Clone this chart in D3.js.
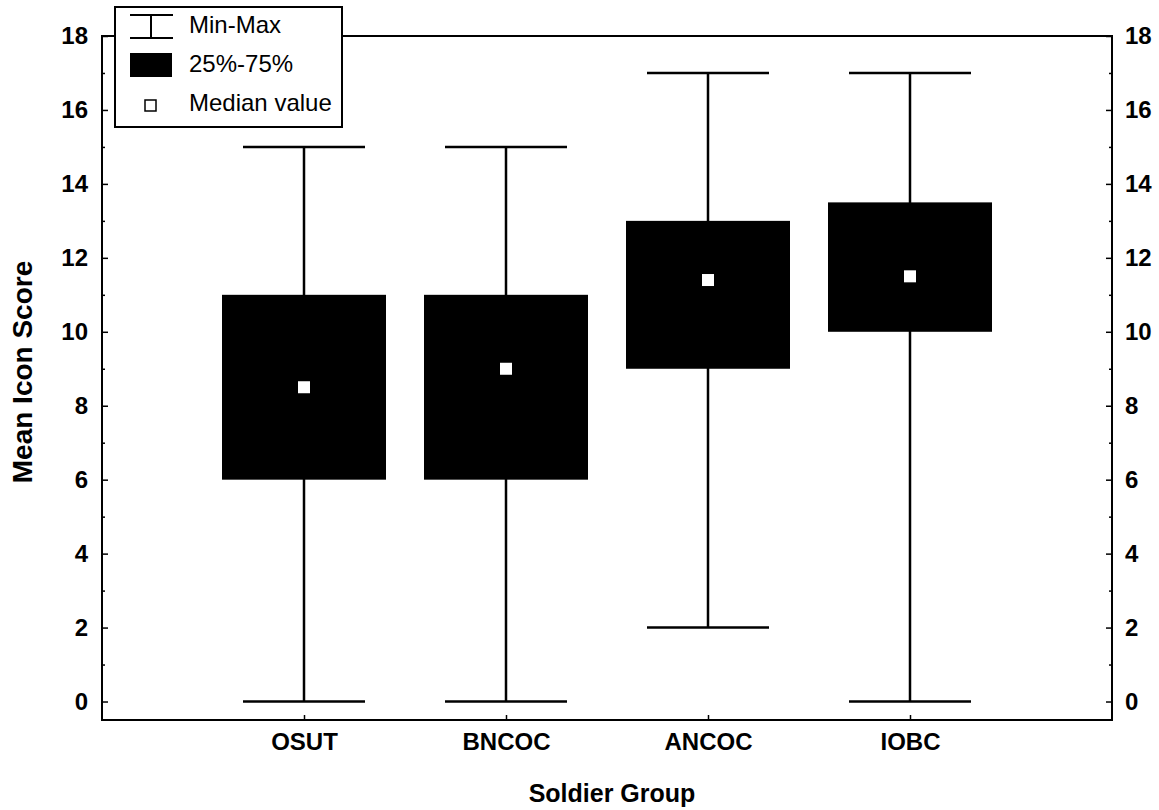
<!DOCTYPE html>
<html><head><meta charset="utf-8">
<script src="https://cdn.jsdelivr.net/npm/d3@7"></script>
<style>
body{margin:0;background:#fff;}
text{font-family:"Liberation Sans",Arial,sans-serif;}
</style></head>
<body><svg id="c" width="1159" height="810"></svg>
<script>
const categories = ["OSUT","BNCOC","ANCOC","IOBC"];
const minVals    = [0, 0, 2, 0];
const q1Vals     = [6, 6, 9, 10];
const medianVals = [8.5, 9.0, 11.4, 11.5];
const q3Vals     = [11, 11, 13, 13.5];
const maxVals    = [15, 15, 17, 17];
const majorTicks = [0,2,4,6,8,10,12,14,16,18];
const minorTicks = [1,3,5,7,9,11,13,15,17];
const legendLabels = ["Min-Max","25%-75%","Median value"];

const svg = d3.select("#c");
const L=102, R=1112, T=36, B=720;
const x = d3.scalePoint().domain(categories).range([L,R]).padding(1);
const y = d3.scaleLinear().domain([-0.5,18]).range([B,T]);

const data = categories.map((c,i)=>({c,min:minVals[i],q1:q1Vals[i],med:medianVals[i],q3:q3Vals[i],max:maxVals[i]}));

// frame
svg.append("rect").attr("x",L).attr("y",T).attr("width",R-L).attr("height",B-T)
  .attr("fill","none").attr("stroke","#000").attr("stroke-width",2);

function styleAxis(g,fs){
  g.select(".domain").remove();
  g.selectAll(".tick line").attr("stroke","#000").attr("stroke-width",1.5);
  g.selectAll(".tick text").attr("fill","#000").style("font-size",fs+"px").style("font-weight","bold")
   .style("font-family",'"Liberation Sans",Arial,sans-serif');
}
const gl = svg.append("g").attr("transform",`translate(${L},0)`)
  .call(d3.axisLeft(y).tickValues(majorTicks).tickSize(-6).tickPadding(14).tickFormat(d3.format("d")));
styleAxis(gl,24);
const glm = svg.append("g").attr("transform",`translate(${L},0)`)
  .call(d3.axisLeft(y).tickValues(minorTicks).tickSize(-3).tickFormat(""));
styleAxis(glm,24);
const gr = svg.append("g").attr("transform",`translate(${R},0)`)
  .call(d3.axisRight(y).tickValues(majorTicks).tickSize(-6).tickPadding(13).tickFormat(d3.format("d")));
styleAxis(gr,24);
const grm = svg.append("g").attr("transform",`translate(${R},0)`)
  .call(d3.axisRight(y).tickValues(minorTicks).tickSize(-3).tickFormat(""));
styleAxis(grm,24);
const gb = svg.append("g").attr("transform",`translate(0,${B})`)
  .call(d3.axisBottom(x).tickSize(-5).tickPadding(13));
styleAxis(gb,24);

// whiskers
const capHalf=61, boxHalf=82, medSize=12;
const g = svg.append("g");
g.selectAll(".wh").data(data).join("line")
  .attr("x1",d=>x(d.c)).attr("x2",d=>x(d.c)).attr("y1",d=>y(d.min)).attr("y2",d=>y(d.max))
  .attr("stroke","#000").attr("stroke-width",2.5);
g.selectAll(".capmax").data(data).join("line")
  .attr("x1",d=>x(d.c)-capHalf).attr("x2",d=>x(d.c)+capHalf).attr("y1",d=>y(d.max)).attr("y2",d=>y(d.max))
  .attr("stroke","#000").attr("stroke-width",2.5);
g.selectAll(".capmin").data(data).join("line")
  .attr("x1",d=>x(d.c)-capHalf).attr("x2",d=>x(d.c)+capHalf).attr("y1",d=>y(d.min)).attr("y2",d=>y(d.min))
  .attr("stroke","#000").attr("stroke-width",2.5);
g.selectAll(".box").data(data).join("rect")
  .attr("x",d=>x(d.c)-boxHalf).attr("width",boxHalf*2)
  .attr("y",d=>y(d.q3)).attr("height",d=>y(d.q1)-y(d.q3)).attr("fill","#000");
g.selectAll(".med").data(data).join("rect")
  .attr("x",d=>x(d.c)-medSize/2).attr("y",d=>y(d.med)-medSize/2)
  .attr("width",medSize).attr("height",medSize).attr("fill","#fff");

// legend
const lg = svg.append("g");
lg.append("rect").attr("x",115).attr("y",7).attr("width",227).attr("height",120)
  .attr("fill","#fff").attr("stroke","#000").attr("stroke-width",2);
lg.append("line").attr("x1",130).attr("x2",173).attr("y1",15).attr("y2",15).attr("stroke","#000").attr("stroke-width",2);
lg.append("line").attr("x1",130).attr("x2",173).attr("y1",38).attr("y2",38).attr("stroke","#000").attr("stroke-width",2);
lg.append("line").attr("x1",151).attr("x2",151).attr("y1",15).attr("y2",38).attr("stroke","#000").attr("stroke-width",2);
lg.append("rect").attr("x",130).attr("y",53).attr("width",42).attr("height",24).attr("fill","#000");
lg.append("rect").attr("x",145).attr("y",100).attr("width",11).attr("height",11).attr("fill","#fff").attr("stroke","#000").attr("stroke-width",1.5);
lg.selectAll(".lt").data(legendLabels).join("text")
  .attr("x",189).attr("y",(d,i)=>33+i*39).text(d=>d)
  .style("font-size","24px").attr("fill","#000");

// axis titles
svg.append("text").attr("x",612).attr("y",802).attr("text-anchor","middle")
  .style("font-size","25px").style("font-weight","bold").text("Soldier Group");
svg.append("text").attr("transform","translate(32,372) rotate(-90)").attr("text-anchor","middle")
  .style("font-size","28px").style("font-weight","bold").text("Mean Icon Score");
</script></body></html>
